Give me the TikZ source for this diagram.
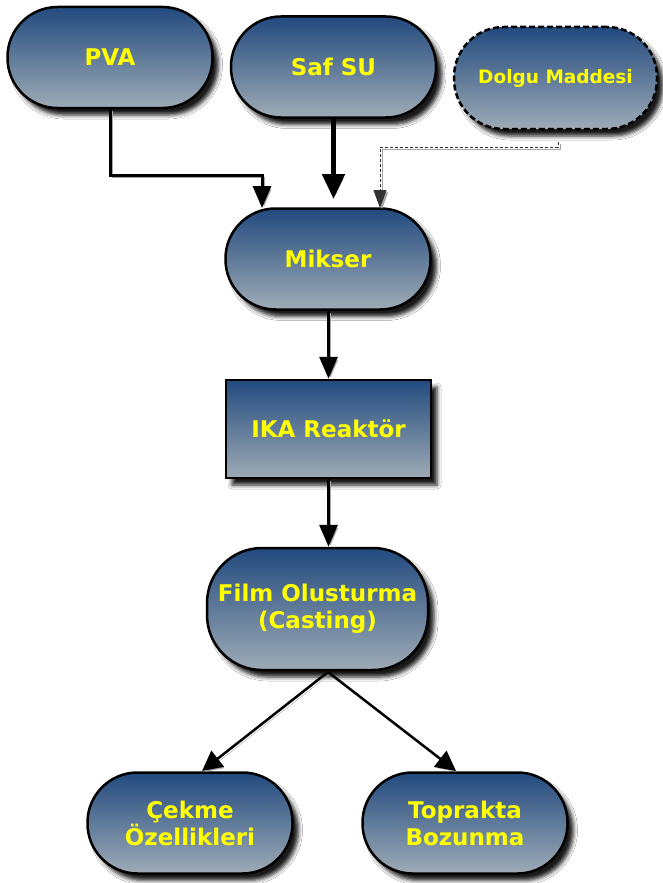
\documentclass[tikz,border=0pt]{standalone}
\usepackage{fontspec}
\setmainfont{DejaVu Sans}
\usetikzlibrary{arrows.meta,shadows.blur,calc}
\definecolor{topc}{RGB}{34,74,126}
\definecolor{botc}{RGB}{158,171,181}
\definecolor{yel}{RGB}{255,255,0}
\tikzset{
  box/.style={draw=black, line width=2.5pt, top color=topc, bottom color=botc,
    text=yel, font=\bfseries\fontsize{23}{27}\selectfont, align=center, inner sep=0pt,
    blur shadow={shadow xshift=6pt, shadow yshift=-7pt, shadow blur radius=4pt, shadow opacity=90}},
  pill/.style={box, rounded corners=50pt, minimum width=205pt, minimum height=101pt},
  rect/.style={box, minimum width=205pt, minimum height=98pt},
  ashadow/.style={preaction={draw=black!35, transform canvas={shift={(2pt,-2pt)}}}},
  arr/.style={line width=3pt, ashadow, -{Triangle[length=22pt,width=18pt]}},
  thickarr/.style={line width=5pt, ashadow, -{Triangle[length=25pt,width=22pt]}},
  dotarr/.style={line width=1pt, densely dashed, draw=black!80, ashadow, -{Triangle[length=18pt,width=13pt]}},
  diagarr/.style={line width=2.5pt, ashadow, -{Triangle[length=20pt,width=20pt]}},
}
\begin{document}
\begin{tikzpicture}[x=1pt,y=-1pt]
\useasboundingbox (0,0) rectangle (663,883);
\fill[white] (0,0) rectangle (663,883);
\node[pill] (pva) at (110,57.5) {PVA};
\node[pill, dash pattern=on 6pt off 3pt, font=\bfseries\fontsize{18.5}{22}\selectfont, minimum width=203pt, minimum height=102pt] (dol) at (555.5,78) {Dolgu Maddesi};
\node[pill] (saf) at (333.5,67) {Saf SU};
\node[pill] (mik) at (328,259) {Mikser};
\node[rect] (ika) at (328.5,429) {IKA Reaktör};
\node[pill, rounded corners=55pt, minimum width=221pt, minimum height=122pt] (film) at (317.5,609) {Film Olusturma\\(Casting)};
\node[pill] (cek) at (190,823) {Çekme\\Özellikleri};
\node[pill] (top) at (465,823) {Toprakta\\Bozunma};
\coordinate (pvabend) at (110,175);
\coordinate (pvaend) at (262,208);
\coordinate (dolstart) at (558,142);
\coordinate (dolbend) at (558,147);
\coordinate (dolend) at (380,208);
\coordinate (safend) at (333.5,199);
\coordinate (filmout) at (328,672);
\coordinate (cekend) at (202,771);
\coordinate (topend) at (456,771);
\draw[arr] (pva.south) |- (pvaend |- pvabend) -- (pvaend);
\draw[thickarr] (saf.south) -- (safend);
\draw[dotarr] (dolstart) -- (dolbend) -| (dolend);
\draw[arr] (mik.south -| ika.north) -- (ika.north);
\draw[arr] (ika.south) -- (ika.south |- film.north);
\draw[diagarr] (filmout) -- (cekend);
\draw[diagarr] (filmout) -- (topend);
\end{tikzpicture}
\end{document}
